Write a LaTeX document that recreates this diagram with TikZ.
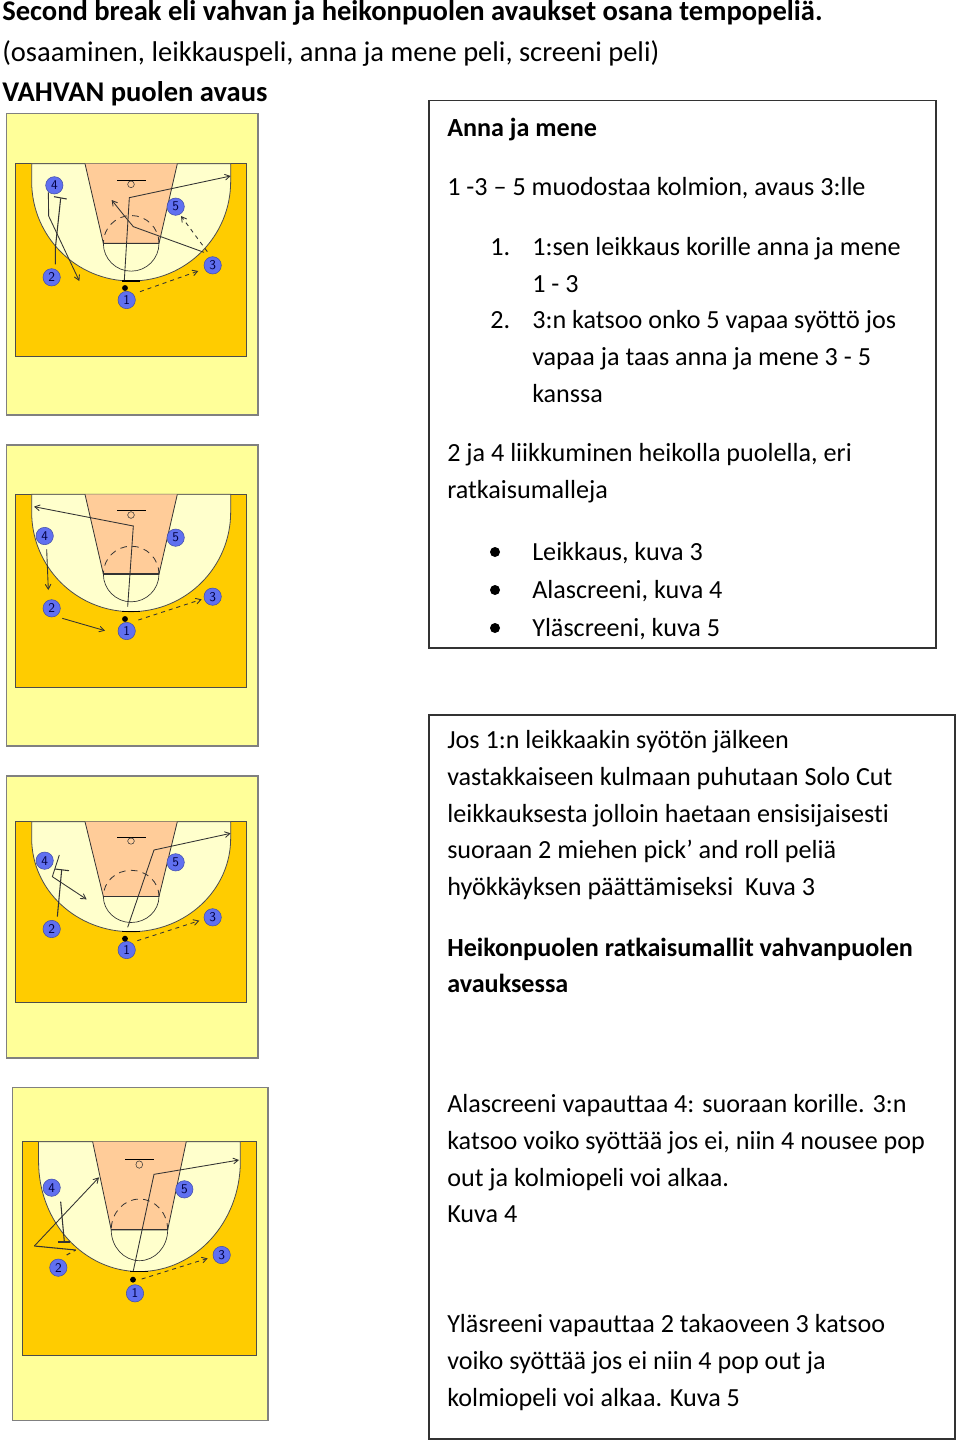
\documentclass[tikz,border=0pt]{standalone}
\usepackage{fontspec}
\setmainfont{Carlito}[Ligatures=NoCommon]
\usetikzlibrary{arrows}
\definecolor{panelcol}{HTML}{FFFF99}
\definecolor{floorcol}{HTML}{FFCC00}
\definecolor{arccol}{HTML}{FFFFCC}
\definecolor{keycol}{HTML}{FFCC99}
\definecolor{playercol}{HTML}{6070F0}
\tikzset{%
  panel/.style  = {draw=gray,fill=panelcol,line width=0.8pt},%
  player/.style = {circle,draw=playercol!70!black,fill=playercol,text=black!75!blue,inner sep=0pt,minimum size=13pt,font=\sffamily\fontsize{10}{10}\selectfont},%
  ball/.style   = {circle,fill=black,inner sep=0pt,minimum size=4.4pt},%
  cut/.style    = {draw=black!80,line width=0.65pt,->,>=angle 60},%
  pass/.style   = {draw=black!80,line width=0.65pt,dashed,->,>=angle 60},%
  screen/.style = {draw=black!80,line width=0.8pt},%
  txt/.style    = {anchor=north west,inner sep=0pt,align=left,font=\fontsize{19.6}{27.45}\selectfont},%
  head/.style   = {anchor=base west,inner sep=0pt,font=\fontsize{21.4}{27}\selectfont},%
  dotmark/.style= {circle,fill=black,inner sep=0pt,minimum size=7.5pt},%
  textbox/.style= {draw=black!80,line width=1.4pt}%
}
% half court: origin at its top left corner
\newcommand{\courtbase}[4]{%
  \begin{scope}[shift={(#1,#2)},xscale=#3,yscale=#4]
    \filldraw[draw=black!70,fill=floorcol,line width=0.7pt] (0,0) rectangle (693,579);
    \filldraw[draw=black!70,fill=arccol,line width=0.6pt] (48,0) -- (48,53.5)
      arc[start angle=180,end angle=0,radius=298.5] -- (645,0) -- cycle;
    \filldraw[draw=black!80,fill=keycol,line width=0.6pt] (208,0) -- (263,239) -- (430,239) -- (485,0);
    \draw[black!80,line width=0.8pt] (263,239) -- (430,239);
    \draw[black!80,line width=0.5pt] (263,239) arc[start angle=180,end angle=0,radius=83.5];
    \draw[black!80,line width=0.6pt,dash pattern=on 5pt off 4pt] (430,239) arc[start angle=0,end angle=-180,radius=83.5];
    \draw[black,line width=0.6pt] (305,49) -- (390,49);
    \draw[black!80,line width=0.4pt] (346,62) circle (10);
    \draw[black,line width=0.8pt] (320,352) -- (372,352);
  \end{scope}%
}
\begin{document}
\begin{tikzpicture}[x=0.75pt,y=-0.75pt]
\useasboundingbox (0,0) rectangle (960,1442);
\node[head,font=\fontsize{21.4}{27}\selectfont\bfseries] (title) at (2,21) {Second break eli vahvan ja heikonpuolen avaukset osana tempopeliä.};
\node[head] (subtitle) at (2,61) {(osaaminen, leikkauspeli, anna ja mene peli, screeni peli)};
\node[head,font=\fontsize{21.4}{27}\selectfont\bfseries] (strong) at (2,101) {VAHVAN puolen avaus};
% first court
\draw[panel] (6.5,113.5) rectangle (258,415);
\begin{scope}[shift={(0,105)},x=0.25pt,y=-0.25pt]
  \courtbase{47}{176}{1}{1}
  \node[player] (a1) at (380,585) {1};
  \node[player] (a2) at (155,517) {2};
  \node[player] (a3) at (638,481) {3};
  \node[player] (a4) at (163,241) {4};
  \node[player] (a5) at (527,305) {5};
  \node[ball] (aball) at (375,549) {};
  \coordinate (a1s) at (373,525);
  \coordinate (a1e) at (692,213);
  \coordinate (a1p) at (420,560);
  \coordinate (a3p) at (595,498);
  \coordinate (a3s) at (622,440);
  \coordinate (a5p) at (543,333);
  \coordinate (a3c) at (612,442);
  \coordinate (a3e) at (335,285);
  \coordinate (a4s) at (145,262);
  \coordinate (a4e) at (238,528);
  \coordinate (a2s) at (166,478);
  \coordinate (a2e) at (182,280);
  \coordinate (a2l) at (162,275);
  \coordinate (a2r) at (200,282);
  \draw[cut] (a1s) -- (388,278) -- (a1e);
  \draw[pass] (a1p) -- (a3p);
  \draw[pass] (a3s) -- (a5p);
  \draw[cut] (a3c) -- (400,365) -- (375,335) -- (a3e);
  \draw[cut] (a4s) -- (146,333) -- (a4e);
  \draw[screen] (a2s) -- (166,430) -- (a2e);
  \draw[screen] (a2l) -- (a2r);
\end{scope}
% second court
\draw[panel] (6.5,445) rectangle (258,746);
\begin{scope}[shift={(0,440)},x=0.25pt,y=-0.25pt]
  \courtbase{47}{163}{1}{1}
  \node[player] (b1) at (380,573) {1};
  \node[player] (b2) at (155,505) {2};
  \node[player] (b3) at (638,470) {3};
  \node[player] (b4) at (134,288) {4};
  \node[player] (b5) at (527,293) {5};
  \node[ball] (bball) at (375,537) {};
  \coordinate (b1s) at (383,500);
  \coordinate (b1e) at (102,200);
  \coordinate (b1p) at (415,540);
  \coordinate (b3p) at (605,478);
  \coordinate (b4s) at (140,328);
  \coordinate (b4e) at (145,450);
  \coordinate (b2s) at (187,535);
  \coordinate (b2e) at (315,572);
  \draw[cut] (b1s) -- (400,258) -- (b1e);
  \draw[pass] (b1p) -- (b3p);
  \draw[cut] (b4s) -- (b4e);
  \draw[cut] (b2s) -- (b2e);
\end{scope}
% third court
\draw[panel] (6.5,776) rectangle (258,1058);
\begin{scope}[shift={(0,770)},x=0.25pt,y=-0.25pt]
  \courtbase{47}{155}{1}{0.938}
  \node[player] (c1) at (380,540) {1};
  \node[player] (c2) at (155,477) {2};
  \node[player] (c3) at (638,442) {3};
  \node[player] (c4) at (134,272) {4};
  \node[player] (c5) at (527,277) {5};
  \node[ball] (cball) at (375,506) {};
  \coordinate (c1s) at (383,472);
  \coordinate (c1e) at (692,190);
  \coordinate (c1p) at (412,512);
  \coordinate (c3p) at (598,452);
  \coordinate (c2s) at (172,440);
  \coordinate (c2e) at (185,300);
  \coordinate (c2l) at (165,297);
  \coordinate (c2r) at (207,302);
  \coordinate (c4s) at (178,255);
  \coordinate (c4e) at (260,388);
  \draw[cut] (c1s) -- (462,240) -- (c1e);
  \draw[pass] (c1p) -- (c3p);
  \draw[screen] (c2s) -- (c2e);
  \draw[screen] (c2l) -- (c2r);
  \draw[cut] (c4s) -- (157,320) -- (c4e);
\end{scope}
% fourth court
\draw[panel] (12.5,1087.5) rectangle (268,1420.5);
\begin{scope}[shift={(5,1080)},x=0.25pt,y=-0.25pt]
  \courtbase{52}{185}{1.014}{1.107}
  \node[player] (d1) at (390,640) {1};
  \node[player] (d2) at (160,563) {2};
  \node[player] (d3) at (650,525) {3};
  \node[player] (d4) at (140,323) {4};
  \node[player] (d5) at (538,328) {5};
  \node[ball] (dball) at (384,599) {};
  \coordinate (d1s) at (385,572);
  \coordinate (d1e) at (702,240);
  \coordinate (d1p) at (410,597);
  \coordinate (d3p) at (608,535);
  \coordinate (d2s) at (185,525);
  \coordinate (d2e) at (212,510);
  \coordinate (d4s) at (167,365);
  \coordinate (d4e) at (178,485);
  \coordinate (d4l) at (160,486);
  \coordinate (d4r) at (195,486);
  \coordinate (d2a) at (88,498);
  \coordinate (d2t) at (282,292);
  \draw[cut] (d1s) -- (447,283) -- (d1e);
  \draw[pass] (d1p) -- (d3p);
  \draw[screen,dashed] (d2s) -- (d2e);
  \draw[screen] (d4s) -- (d4e);
  \draw[screen] (d4l) -- (d4r);
  \draw[cut] (d2a) -- (d2t);
  \draw[screen] (d2a) -- (d2e);
\end{scope}
% first text box
\draw[textbox] (429,100.5) rectangle (936,648);
\node[txt,font=\fontsize{19.6}{27.45}\selectfont\bfseries] (anna) at (447,117.5) {Anna ja mene};
\node[txt] (kolmio) at (447,177.5) {1 -3 – 5 muodostaa kolmion, avaus 3:lle};
\node[txt] (num1) at (490,238.5) {1.};
\node[txt] (item1) at (532,237.5) {1:sen leikkaus korille anna ja mene\\1 - 3};
\node[txt] (num2) at (490,311.5) {2.};
\node[txt] (item2) at (532,310.5) {3:n katsoo onko 5 vapaa syöttö jos\\vapaa ja taas anna ja mene 3 - 5\\kanssa};
\node[txt] (heikko) at (447,443.5) {2 ja 4 liikkuminen heikolla puolella, eri\\ratkaisumalleja};
\node[dotmark] (dot1) at (495,552) {};
\node[dotmark] (dot2) at (495,590) {};
\node[dotmark] (dot3) at (495,628) {};
\node[txt] (leik) at (532,542.5) {Leikkaus, kuva 3};
\node[txt] (ala) at (532,580.5) {Alascreeni, kuva 4};
\node[txt] (yla) at (532,618.5) {Yläscreeni, kuva 5};
% second text box
\draw[textbox] (429,715) rectangle (955,1439);
\node[txt] (solo) at (447,730.5) {Jos 1:n leikkaakin syötön jälkeen\\vastakkaiseen kulmaan puhutaan Solo Cut\\leikkauksesta jolloin haetaan ensisijaisesti\\suoraan 2 miehen pick’ and roll peliä\\hyökkäyksen päättämiseksi\ \ Kuva 3};
\node[txt,font=\fontsize{19.6}{27.45}\selectfont\bfseries] (ratk) at (447,937.5) {Heikonpuolen ratkaisumallit vahvanpuolen\\avauksessa};
\node[txt] (alasc) at (447,1094.5) {Alascreeni vapauttaa 4: suoraan korille. 3:n\\katsoo voiko syöttää jos ei, niin 4 nousee pop\\out ja kolmiopeli voi alkaa.\\Kuva 4};
\node[txt] (ylasc) at (447,1314.5) {Yläsreeni vapauttaa 2 takaoveen 3 katsoo\\voiko syöttää jos ei niin 4 pop out ja\\kolmiopeli voi alkaa. Kuva 5};
\end{tikzpicture}
\end{document}
